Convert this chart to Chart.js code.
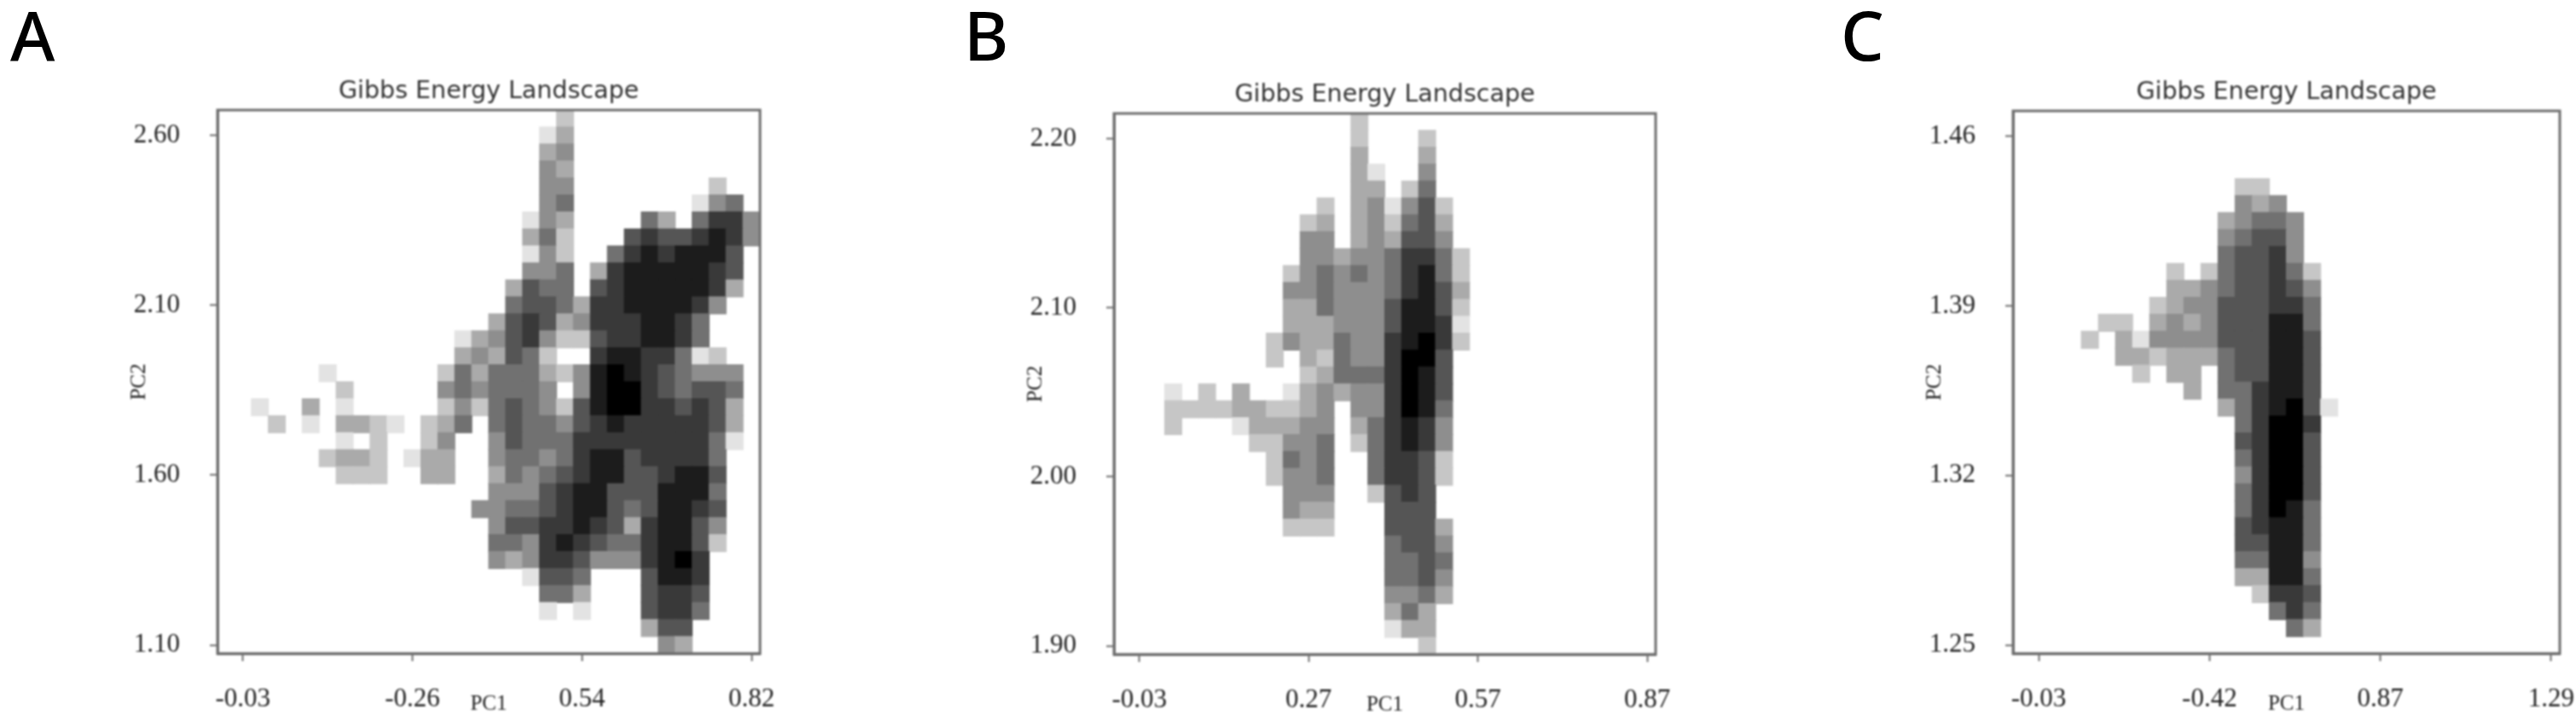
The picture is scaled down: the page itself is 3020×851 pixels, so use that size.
<!DOCTYPE html>
<html>
<head>
<meta charset="utf-8">
<title>Gibbs Energy Landscape</title>
<script src="https://cdn.jsdelivr.net/npm/chart.js@4/dist/chart.umd.min.js"></script>
<style>
    html, body { margin: 0; padding: 0; background: #fff; width: 3020px; height: 851px; overflow: hidden; }
    canvas { position: absolute; filter: blur(0.9px); }
    .letter { position: absolute; top: -4px; font: 500 80px/88px "Noto Sans", sans-serif; color: #000; filter: blur(0.5px); }
</style>
</head>
<body>
<div class="letter" style="left:12px">A</div>
<div class="letter" style="left:1130px">B</div>
<div class="letter" style="left:2158px">C</div>
<canvas id="chart-a"></canvas>
<canvas id="chart-b"></canvas>
<canvas id="chart-c"></canvas>
<script>
// tick labels, as printed on the figure (they are not monotonic)
const xLabelsA = ["-0.03", "-0.26", "0.54", "0.82"]
const yLabelsA = ["1.10", "1.60", "2.10", "2.60"]
const xLabelsB = ["-0.03", "0.27", "0.57", "0.87"]
const yLabelsB = ["1.90", "2.00", "2.10", "2.20"]
const xLabelsC = ["-0.03", "-0.42", "0.87", "1.29"]
const yLabelsC = ["1.25", "1.32", "1.39", "1.46"]

// ticks sit on these bin coordinates of the 32x32 histogram
const xTickBins = [1.5, 11.5, 21.5, 31.5]
const yTickBins = [0.5, 10.5, 20.5, 30.5]

// 0 = empty, 9 = deepest well. Runs are [row from top, first column, levels]
const binsA = [
    [0, 20, "2"], [1, 19, "13"], [2, 19, "34"], [3, 19, "43"],
    [4, 19, "44000000002"],
    [5, 19, "450000000145"],
    [6, 18, "14300005305774"],
    [7, 18, "35200067667874"],
    [8, 18, "1420057878886"],
    [9, 18, "4450378888876"],
    [10, 17, "36550678888873"],
    [11, 17, "5665377888874"],
    [12, 16, "3676347778875"],
    [13, 14, "134674226778875"],
    [14, 14, "3436520078877512"],
    [15, 6, "1"], [15, 13, "253555324898765444"],
    [16, 7, "2"], [16, 13, "454555404899765665"],
    [17, 2, "1"], [17, 5, "3"], [17, 7, "1"], [17, 13, "242565426899776763"],
    [18, 3, "2"], [18, 5, "1"], [18, 7, "3321"], [18, 12, "2350565546787777763"],
    [19, 7, "1"], [19, 9, "2"], [19, 12, "2400465557777777751"],
    [20, 6, "2332"], [20, 11, "1"], [20, 12, "330045545788677775"],
    [21, 7, "222"], [21, 12, "330035456788667886"],
    [22, 16, "44467886668885"],
    [23, 15, "445567886568876"],
    [24, 16, "46677876378864"],
    [25, 16, "55478765578862"],
    [26, 16, "4347764447897"],
    [27, 18, "16650006887"],
    [28, 19, "5530006776"],
    [29, 19, "1010006775"],
    [30, 25, "366"],
    [31, 26, "43"],
]

const binsB = [
    [0, 14, "2"],
    [1, 14, "20002"],
    [2, 14, "30003"],
    [3, 14, "31004"],
    [4, 14, "33025"],
    [5, 12, "20341462"],
    [6, 11, "230342563"],
    [7, 11, "440343664"],
    [8, 11, "4434457752"],
    [9, 10, "24545457852"],
    [10, 10, "44544457863"],
    [11, 10, "33544468862"],
    [12, 10, "33344468871"],
    [13, 9, "243354478972"],
    [14, 9, "20325447996"],
    [15, 11, "235557986"],
    [16, 3, "10203001343447986"],
    [17, 3, "22223322340447985"],
    [18, 3, "20001333440357874"],
    [19, 8, "224450257874"],
    [20, 9, "25450057762"],
    [21, 9, "24450057762"],
    [22, 10, "444002676"],
    [23, 10, "433000666"],
    [24, 10, "2220006663"],
    [25, 16, "5664"],
    [26, 16, "5565"],
    [27, 16, "5564"],
    [28, 16, "4453"],
    [29, 16, "353"],
    [30, 16, "133"],
    [31, 18, "2"],
]

const binsC = [
    [4, 13, "22"],
    [5, 13, "434"],
    [6, 12, "34554"],
    [7, 12, "45664"],
    [8, 12, "56674"],
    [9, 9, "202566752"],
    [10, 9, "334566764"],
    [11, 8, "2344666775"],
    [12, 5, "2203434666885"],
    [13, 4, "20314444666886"],
    [14, 6, "332333566886"],
    [15, 7, "20330566886"],
    [16, 10, "30557886"],
    [17, 12, "3578961"],
    [18, 13, "57997"],
    [19, 13, "67996"],
    [20, 13, "57996"],
    [21, 13, "47996"],
    [22, 13, "57996"],
    [23, 13, "57985"],
    [24, 13, "67885"],
    [25, 13, "66885"],
    [26, 13, "55884"],
    [27, 13, "33885"],
    [28, 14, "2776"],
    [29, 15, "575"],
    [30, 16, "53"],
]

const GRID_SIZE = 32
const AXIS_COLOR = "#6e6e6e"
const TEXT_COLOR = "#222"

// grey for a level: 9 steps from white to black
function levelColor(level) {
    const v = Math.round(255 * (9 - level) / 9)
    return `rgb(${v},${v},${v})`
}

function binsToPoints(runs) {
    const points = []
    runs.forEach(([row, firstCol, levels]) => {
        levels.split("").forEach((ch, i) => {
            if (ch === "0") return
            points.push({ x: firstCol + i + 0.5, y: GRID_SIZE - row - 0.5, level: Number(ch) })
        })
    })
    return points
}

// box around the plot, the two far sides have no axis of their own
const frameBox = {
    id: "frameBox",
    afterDatasetsDraw(chart) {
        const { ctx, chartArea: a } = chart
        ctx.save()
        ctx.strokeStyle = AXIS_COLOR
        ctx.lineWidth = 3
        ctx.strokeRect(a.left, a.top, a.width, a.height)
        ctx.restore()
    }
}

const AXIS_LEFT = 125
const AXIS_BOTTOM = 85
const TITLE_TOP = 69
const PAD_RIGHT = 19

function axisOptions(tickBins, labels, isX) {
    return {
        type: "linear",
        min: 0,
        max: GRID_SIZE,
        afterBuildTicks: axis => { axis.ticks = tickBins.map(v => ({ value: v })) },
        afterFit: axis => {
            if (isX) axis.height = AXIS_BOTTOM
            else axis.width = AXIS_LEFT
            // labels may hang over the plot edges, the plot box must stay put
            axis.paddingLeft = axis.paddingRight = axis.paddingTop = axis.paddingBottom = 0
        },
        grid: { drawOnChartArea: false, tickLength: 9, tickColor: AXIS_COLOR, tickWidth: 2 },
        border: { color: AXIS_COLOR, width: 3 },
        ticks: {
            autoSkip: false,
            maxRotation: 0,
            padding: isX ? 26 : 35,
            color: TEXT_COLOR,
            font: { family: "Liberation Serif", size: 31 },
            callback: (value, index) => labels[index],
        },
        title: {
            display: true,
            text: isX ? "PC1" : "PC2",
            color: TEXT_COLOR,
            font: { family: "Liberation Serif", size: 25 },
            padding: isX ? { top: 0, bottom: 11 } : { top: 18, bottom: 0 },
        },
    }
}

function drawPanel(id, runs, xLabels, yLabels, box) {
    const canvas = document.getElementById(id)
    canvas.width = AXIS_LEFT + box.width + PAD_RIGHT
    canvas.height = TITLE_TOP + box.height + AXIS_BOTTOM
    canvas.style.left = (box.left - AXIS_LEFT) + "px"
    canvas.style.top = (box.top - TITLE_TOP) + "px"

    return new Chart(canvas, {
        type: "scatter",
        data: {
            datasets: [{
                label: "Gibbs energy",
                data: binsToPoints(runs),
                pointStyle: "rect",
                // rect corners lie on the radius, a little extra closes the seams between bins
                pointRadius: ctx => ctx.chart.chartArea ? ctx.chart.chartArea.width / GRID_SIZE * Math.SQRT1_2 + 0.8 : 0,
                pointHoverRadius: 0,
                pointBorderWidth: 0,
                pointBackgroundColor: ctx => ctx.raw ? levelColor(ctx.raw.level) : "#fff",
            }]
        },
        options: {
            responsive: false,
            animation: false,
            layout: { padding: { right: PAD_RIGHT } },
            plugins: {
                legend: { display: false },
                tooltip: { enabled: false },
                title: {
                    display: true,
                    text: "Gibbs Energy Landscape",
                    color: "#333",
                    fullSize: false,
                    font: { family: "DejaVu Sans", size: 28.5, weight: "normal", lineHeight: 1.2 },
                    padding: { top: 30.4, bottom: 4.4 },
                },
            },
            scales: {
                x: axisOptions(xTickBins, xLabels, true),
                y: axisOptions(yTickBins, yLabels, false),
            },
        },
        plugins: [frameBox],
    })
}

drawPanel("chart-a", binsA, xLabelsA, yLabelsA, { left: 255, top: 129, width: 636, height: 637 })
drawPanel("chart-b", binsB, xLabelsB, yLabelsB, { left: 1306, top: 133, width: 635, height: 634 })
drawPanel("chart-c", binsC, xLabelsC, yLabelsC, { left: 2360, top: 130, width: 641, height: 636 })
</script>
</body>
</html>
